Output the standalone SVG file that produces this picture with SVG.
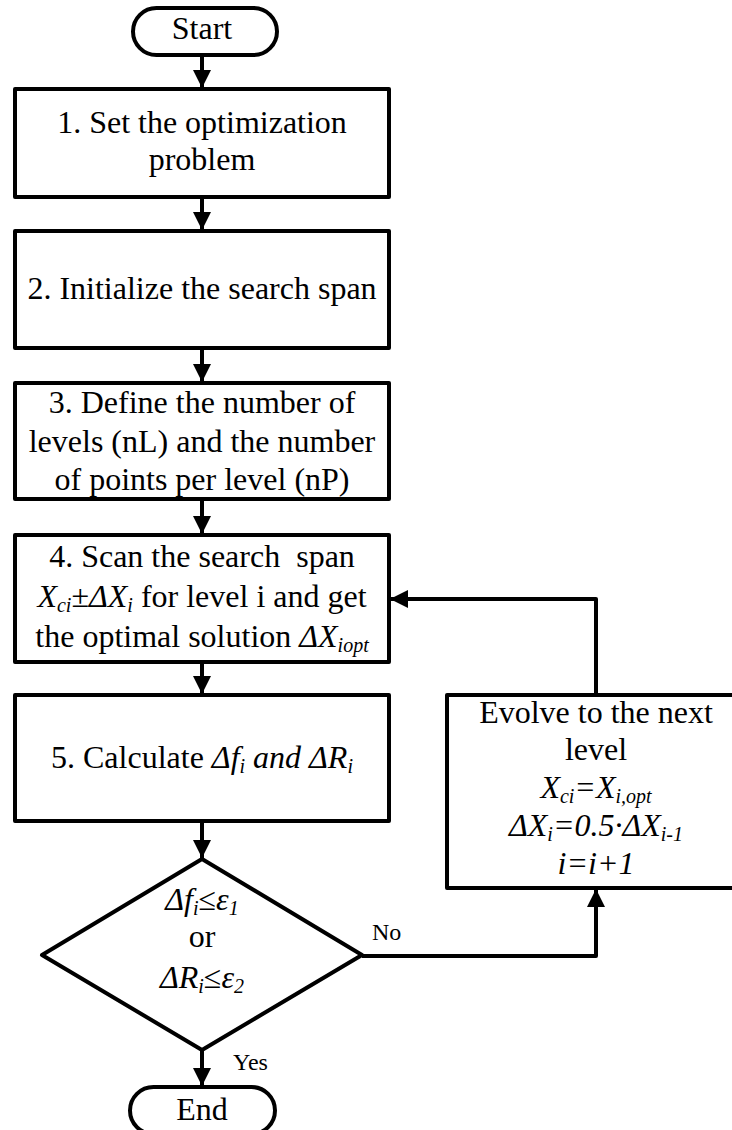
<svg xmlns="http://www.w3.org/2000/svg" width="732" height="1130" viewBox="0 0 732 1130">
  <style>
    .shape { fill: #ffffff; stroke: #000000; stroke-width: 4; stroke-linejoin: round; }
    .link { fill: none; stroke: #000000; stroke-width: 4; stroke-linejoin: round; }
    text { font-family: "Liberation Serif", "Times New Roman", serif; font-size: 32px; fill: #000000; }
    .c { text-anchor: middle; }
    .it { font-style: italic; }
    .sub { font-size: 20px; }
    .lbl { font-size: 24px; }
  </style>
  <defs>
    <marker id="arrow" markerUnits="userSpaceOnUse" markerWidth="18" markerHeight="18" viewBox="0 0 18 18" refX="18" refY="9" orient="auto">
      <path d="M0,0 L18,9 L0,18 Z" fill="#000000"/>
    </marker>
  </defs>

  <rect width="732" height="1130" fill="#ffffff"/>

  <!-- connectors -->
  <g id="connectors">
    <path class="link" d="M202,55 L202,88" marker-end="url(#arrow)"/>
    <path class="link" d="M202,197 L202,230" marker-end="url(#arrow)"/>
    <path class="link" d="M202,348 L202,382" marker-end="url(#arrow)"/>
    <path class="link" d="M202,499 L202,534" marker-end="url(#arrow)"/>
    <path class="link" d="M202,662 L202,694" marker-end="url(#arrow)"/>
    <path class="link" d="M202,821 L202,858" marker-end="url(#arrow)"/>
    <path class="link" d="M202,1050 L202,1086" marker-end="url(#arrow)"/>
    <path class="link" d="M596,695 L596,599 L390,599" marker-end="url(#arrow)"/>
    <path class="link" d="M362,956 L596,956 L596,889" marker-end="url(#arrow)"/>
    <text class="lbl" x="372" y="940">No</text>
    <text class="lbl" x="233" y="1070">Yes</text>
  </g>

  <!-- start terminal -->
  <g id="start">
    <rect class="shape" x="133" y="8" width="144" height="47" rx="23.5"/>
    <text class="c" x="202" y="39">Start</text>
  </g>

  <!-- step 1 -->
  <g id="step1">
    <rect class="shape" x="15" y="89" width="374" height="108"/>
    <text class="c" x="202" y="133">1. Set the optimization</text>
    <text class="c" x="202" y="170">problem</text>
  </g>

  <!-- step 2 -->
  <g id="step2">
    <rect class="shape" x="15" y="231" width="374" height="117"/>
    <text class="c" x="202" y="299">2. Initialize the search span</text>
  </g>

  <!-- step 3 -->
  <g id="step3">
    <rect class="shape" x="15" y="383" width="374" height="116"/>
    <text class="c" x="202" y="413">3. Define the number of</text>
    <text class="c" x="202" y="452">levels (nL) and the number</text>
    <text class="c" x="202" y="490">of points per level (nP)</text>
  </g>

  <!-- step 4 -->
  <g id="step4">
    <rect class="shape" x="15" y="535" width="374" height="127"/>
    <text class="c" x="202" y="567" xml:space="preserve">4. Scan the search  span</text>
    <text class="c" x="202" y="607"><tspan class="it">X</tspan><tspan class="it sub" dy="5">ci</tspan><tspan dy="-5">±</tspan><tspan class="it">ΔX</tspan><tspan class="it sub" dy="5">i</tspan><tspan dy="-5"> for level i and get</tspan></text>
    <text class="c" x="202" y="647">the optimal solution <tspan class="it">ΔX</tspan><tspan class="it sub" dy="5">iopt</tspan></text>
  </g>

  <!-- step 5 -->
  <g id="step5">
    <rect class="shape" x="15" y="695" width="374" height="126"/>
    <text class="c" x="202" y="768">5. Calculate <tspan class="it">Δf</tspan><tspan class="it sub" dy="5">i</tspan><tspan class="it" dy="-5"> and ΔR</tspan><tspan class="it sub" dy="5">i</tspan></text>
  </g>

  <!-- convergence check -->
  <g id="decision">
    <polygon class="shape" points="202,859 362,955 202,1050 42,955"/>
    <text class="c" x="202" y="910"><tspan class="it">Δf</tspan><tspan class="it sub" dy="5">i</tspan><tspan dy="-5">≤</tspan><tspan class="it">ε</tspan><tspan class="it sub" dy="5">1</tspan></text>
    <text class="c" x="202" y="947">or</text>
    <text class="c" x="202" y="988"><tspan class="it">ΔR</tspan><tspan class="it sub" dy="5">i</tspan><tspan dy="-5">≤</tspan><tspan class="it">ε</tspan><tspan class="it sub" dy="5">2</tspan></text>
  </g>

  <!-- level update -->
  <g id="evolve">
    <rect class="shape" x="447" y="695" width="298" height="193"/>
    <text class="c" x="596" y="723">Evolve to the next</text>
    <text class="c" x="596" y="760">level</text>
    <text class="c it" x="596" y="798">X<tspan class="sub" dy="5">ci</tspan><tspan dy="-5">=X</tspan><tspan class="sub" dy="5">i,opt</tspan></text>
    <text class="c it" x="596" y="836">ΔX<tspan class="sub" dy="5">i</tspan><tspan dy="-5">=0.5·ΔX</tspan><tspan class="sub" dy="5">i-1</tspan></text>
    <text class="c it" x="596" y="874">i=i+1</text>
  </g>

  <!-- end terminal -->
  <g id="end">
    <rect class="shape" x="130" y="1087" width="145" height="47" rx="23.5"/>
    <text class="c" x="202" y="1120">End</text>
  </g>
</svg>
